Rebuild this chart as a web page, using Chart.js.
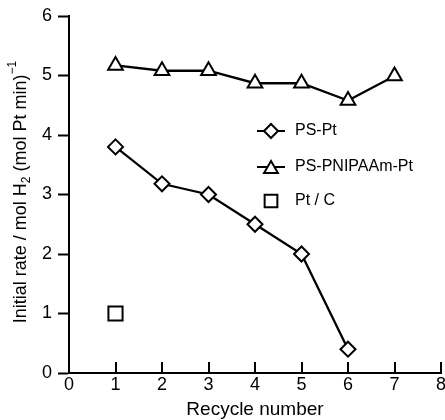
<!DOCTYPE html>
<html>
<head>
<meta charset="utf-8">
<script src="https://cdn.jsdelivr.net/npm/chart.js@4/dist/chart.umd.min.js"></script>
<style>
  body { margin: 0; background: #fff; }
</style>
</head>
<body>
<canvas id="myChart" width="445" height="420"></canvas>
<script>
// valores
const recycle = [1, 2, 3, 4, 5, 6, 7];
const psPt = [3.8, 3.18, 3.0, 2.5, 2.0, 0.4];
const psPnipaam = [5.17, 5.08, 5.08, 4.87, 4.87, 4.58, 4.99];
const ptCRecycle = [1];
const ptC = [1.0];
const seriesNames = ['PS-Pt', 'PS-PNIPAAm-Pt', 'Pt / C'];
const xTicks = [0, 1, 2, 3, 4, 5, 6, 7, 8];

const FONT = 'Liberation Sans, Arial, sans-serif';

function toPoints(xs, ys) {
    return ys.map((v, i) => ({ x: xs[i], y: v }));
}

// marcas del eje x hacia dentro, titulos y leyenda
const extras = {
    id: 'extras',
    afterDraw(chart) {
        const c = chart.ctx;
        const xs = chart.scales.x;
        const area = chart.chartArea;
        c.save();
        c.strokeStyle = '#000';
        c.lineWidth = 2;
        xTicks.forEach(t => {
            const px = Math.round(xs.getPixelForValue(t));
            c.beginPath();
            c.moveTo(px, area.bottom);
            c.lineTo(px, area.bottom - 11);
            c.stroke();
        });

        // titulo eje x
        c.fillStyle = '#000';
        c.font = '19px ' + FONT;
        c.textAlign = 'center';
        c.textBaseline = 'middle';
        c.fillText('Recycle number', 255, 410);

        // titulo eje y con subindice y superindice
        const parts = [
            { t: 'Initial rate / mol H', size: 18, dy: 0 },
            { t: '2', size: 12, dy: 6 },
            { t: ' (mol Pt min)', size: 18, dy: 0 },
            { t: '\u22121', size: 12, dy: -8 }
        ];
        let total = 0;
        parts.forEach(p => { c.font = p.size + 'px ' + FONT; p.w = c.measureText(p.t).width; total += p.w; });
        c.translate(21, 192);
        c.rotate(-Math.PI / 2);
        c.textAlign = 'left';
        let pos = -total / 2;
        parts.forEach(p => {
            c.font = p.size + 'px ' + FONT;
            c.fillText(p.t, pos, p.dy);
            pos += p.w;
        });
        c.setTransform(1, 0, 0, 1, 0, 0);

        // leyenda
        const rows = [131, 167, 201];
        const styles = ['rectRot', 'triangle', 'rect'];
        const radii = [7, 8, 9];
        rows.forEach((ry, i) => {
            if (i < 2) {
                c.beginPath();
                c.moveTo(257, ry);
                c.lineTo(285, ry);
                c.stroke();
            }
            c.fillStyle = '#fff';
            Chart.helpers.drawPoint(c, {
                pointStyle: styles[i], radius: radii[i], borderWidth: 2, rotation: 0
            }, 271, i === 1 ? ry + 2 : ry);
            c.fillStyle = '#000';
            c.font = '16px ' + FONT;
            c.textAlign = 'left';
            c.textBaseline = 'middle';
            c.fillText(seriesNames[i], 295, ry);
        });
        c.restore();
    }
};

const ctx = document.getElementById('myChart').getContext('2d');
const myChart = new Chart(ctx, {
    type: 'scatter',
    data: {
        datasets: [{
            label: seriesNames[0],
            data: toPoints(recycle, psPt),
            showLine: true,
            borderColor: '#000',
            borderWidth: 2.3,
            pointStyle: 'rectRot',
            pointRadius: 7.5,
            pointBorderWidth: 2,
            pointBackgroundColor: '#fff',
            pointBorderColor: '#000'
        }, {
            label: seriesNames[1],
            data: toPoints(recycle, psPnipaam),
            showLine: true,
            borderColor: '#000',
            borderWidth: 2.3,
            pointStyle: 'triangle',
            pointRadius: 8.5,
            pointBorderWidth: 2,
            pointBackgroundColor: '#fff',
            pointBorderColor: '#000'
        }, {
            label: seriesNames[2],
            data: toPoints(ptCRecycle, ptC),
            showLine: false,
            pointStyle: 'rect',
            pointRadius: 10,
            pointBorderWidth: 2,
            pointBackgroundColor: '#fff',
            pointBorderColor: '#000'
        }]
    },
    plugins: [extras],
    options: {
        responsive: false,
        animation: false,
        layout: { autoPadding: false, padding: { top: 16, right: 4, left: 0, bottom: 0 } },
        plugins: {
            legend: { display: false },
            tooltip: { enabled: false }
        },
        scales: {
            x: {
                type: 'linear',
                min: 0,
                max: 8,
                ticks: { stepSize: 1, color: '#000', font: { family: FONT, size: 18 }, padding: 1 },
                grid: { display: true, drawOnChartArea: false, drawTicks: false },
                border: { display: true, color: '#000', width: 2 },
                afterFit(scale) { scale.height = 47; scale.paddingLeft = 0; scale.paddingRight = 0; }
            },
            y: {
                min: 0,
                max: 6,
                ticks: { stepSize: 1, color: '#000', font: { family: FONT, size: 18 }, padding: 6 },
                grid: { drawOnChartArea: false, tickLength: 11, tickColor: '#000', tickWidth: 2 },
                border: { display: true, color: '#000', width: 2 },
                afterFit(scale) { scale.width = 69; scale.paddingTop = 0; scale.paddingBottom = 0; }
            }
        }
    }
});
</script>
</body>
</html>
